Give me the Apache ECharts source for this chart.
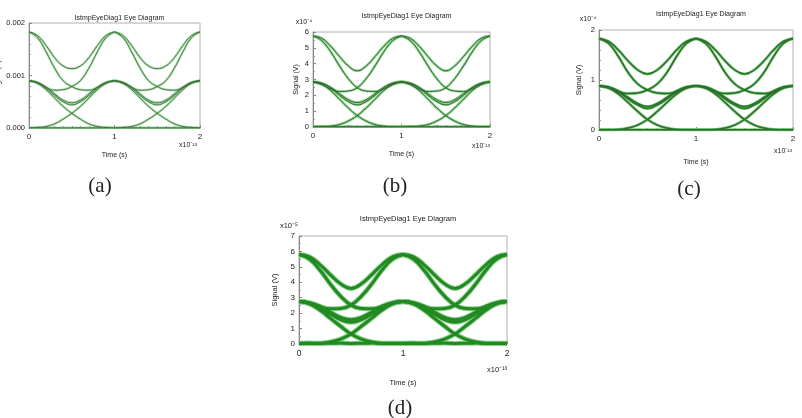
<!DOCTYPE html>
<html>
<head>
<meta charset="utf-8">
<script src="https://cdn.jsdelivr.net/npm/echarts@6/dist/echarts.min.js"></script>
<style>
  html, body { margin: 0; background: #fff; }
  #chart { width: 802px; height: 418px; }
</style>
</head>
<body>
<div id="chart"></div>
<script>
// time inside one symbol slot, in units of 1e-13 s
const slotTimes = [0, 0.1, 0.2, 0.3, 0.4, 0.5, 0.6, 0.7, 0.8, 0.9, 1.0];
const slotStarts = [0, 1];

// (a) signal in mV (axis shows V)
const aHighHigh = [1.83, 1.76, 1.57, 1.34, 1.18, 1.13, 1.18, 1.34, 1.57, 1.76, 1.83];
const aHighMid = [1.83, 1.72, 1.45, 1.14, 0.9, 0.79, 0.73, 0.72, 0.77, 0.86, 0.9];
const aMidMid = [0.9, 0.86, 0.76, 0.62, 0.5, 0.44, 0.5, 0.62, 0.76, 0.86, 0.9];
const aMidMid2 = [0.9, 0.87, 0.78, 0.65, 0.53, 0.48, 0.53, 0.65, 0.78, 0.87, 0.9];
const aMidLow = [0.9, 0.85, 0.73, 0.57, 0.41, 0.28, 0.17, 0.08, 0.03, 0.01, 0.0];
const aLowLow = [0.005, 0.004, 0.005, 0.006, 0.004, 0.005, 0.006, 0.004, 0.005, 0.005, 0.005];

// (b) signal in 1e-4 V
const bHighHigh = [5.75, 5.6, 5.1, 4.45, 3.85, 3.55, 3.85, 4.45, 5.1, 5.6, 5.75];
const bHighMid = [5.75, 5.45, 4.75, 3.85, 3.05, 2.48, 2.27, 2.24, 2.4, 2.68, 2.85];
const bMidMid = [2.85, 2.75, 2.45, 2.0, 1.6, 1.4, 1.6, 2.0, 2.45, 2.75, 2.85];
const bMidMid2 = [2.85, 2.77, 2.5, 2.1, 1.72, 1.55, 1.72, 2.1, 2.5, 2.77, 2.85];
const bMidLow = [2.85, 2.7, 2.3, 1.75, 1.2, 0.72, 0.38, 0.16, 0.06, 0.02, 0.02];
const bLowLow = [0.03, 0.04, 0.03, 0.02, 0.04, 0.03, 0.03, 0.04, 0.02, 0.03, 0.03];

// (c) signal in 1e-4 V
const cHighHigh = [1.83, 1.77, 1.6, 1.38, 1.2, 1.12, 1.2, 1.38, 1.6, 1.77, 1.83];
const cHighMid = [1.83, 1.73, 1.47, 1.15, 0.92, 0.8, 0.74, 0.73, 0.77, 0.85, 0.88];
const cMidMid = [0.88, 0.85, 0.76, 0.62, 0.5, 0.43, 0.5, 0.62, 0.76, 0.85, 0.88];
const cMidMid2 = [0.88, 0.86, 0.78, 0.65, 0.53, 0.47, 0.53, 0.65, 0.78, 0.86, 0.88];
const cMidLow = [0.88, 0.84, 0.72, 0.55, 0.37, 0.21, 0.1, 0.04, 0.01, 0.005, 0.005];
const cLowLow = [0.005, 0.006, 0.004, 0.005, 0.006, 0.005, 0.004, 0.006, 0.005, 0.005, 0.005];

// (d) signal in 1e-5 V
const dHighHigh = [5.8, 5.65, 5.15, 4.5, 3.9, 3.6, 3.9, 4.5, 5.15, 5.65, 5.8];
const dHighMid = [5.8, 5.5, 4.8, 3.9, 3.1, 2.52, 2.3, 2.28, 2.42, 2.65, 2.75];
const dMidMid = [2.75, 2.65, 2.37, 1.95, 1.58, 1.41, 1.58, 1.95, 2.37, 2.65, 2.75];
const dMidMid2 = [2.75, 2.68, 2.45, 2.07, 1.72, 1.57, 1.72, 2.07, 2.45, 2.68, 2.75];
const dMidLow = [2.75, 2.6, 2.2, 1.68, 1.15, 0.65, 0.32, 0.13, 0.05, 0.03, 0.03];
const dLowLow = [0.05, 0.06, 0.04, 0.05, 0.06, 0.04, 0.05, 0.06, 0.04, 0.05, 0.05];

const xTickLabels = ['0', '1', '2'];
const captions = ['(a)', '(b)', '(c)', '(d)'];
const exponents = ['', 'x10\u207B\u2074', 'x10\u207B\u2074', 'x10\u207B\u2075'];

const rev = arr => arr.slice().reverse();

const panels = [
  {
    curves: [aHighHigh, aHighMid, rev(aHighMid), aMidMid, aMidMid2, aMidLow, rev(aMidLow), aLowLow],
    grid: { left: 29, top: 23, width: 171, height: 105 },
    yMax: 2, yMinor: 5, yFmt: v => (v / 1000).toFixed(3), yGap: 27, xGap: 24,
    lineW: 0.9, haloW: 2.4, core: '#4a684a', halo: '#72d072', haloOp: 0.6,
    titleY: 15, font: 7, exp: null, xExp: [188, 145], cap: [100, 186]
  },
  {
    curves: [bHighHigh, bHighMid, rev(bHighMid), bMidMid, bMidMid2, bMidLow, rev(bMidLow), bLowLow],
    grid: { left: 313, top: 32, width: 177, height: 95 },
    yMax: 6, yMinor: 2, yFmt: v => String(v), yGap: 13, xGap: 24,
    lineW: 1, haloW: 2.6, core: '#3a633a', halo: '#5cc85c', haloOp: 0.7,
    titleY: 13, font: 7, exp: [304, 22], xExp: [481, 146], cap: [395, 186]
  },
  {
    curves: [cHighHigh, cHighMid, rev(cHighMid), cMidMid, cMidMid2, cMidLow, rev(cMidLow), cLowLow],
    grid: { left: 599, top: 30, width: 194, height: 100 },
    yMax: 2, yMinor: 5, yFmt: v => String(v), yGap: 16, xGap: 29,
    lineW: 1.5, haloW: 3, core: '#2c6f2c', halo: '#62c062', haloOp: 0.8,
    titleY: 11, font: 7, exp: [588, 19], xExp: [783, 151], cap: [689, 189]
  },
  {
    curves: [dHighHigh, dHighMid, rev(dHighMid), dMidMid, dMidMid2, dMidLow, rev(dMidLow), dLowLow],
    grid: { left: 299, top: 236, width: 208, height: 108 },
    yMax: 7, yMinor: 2, yFmt: v => String(v), yGap: 20, xGap: 35,
    lineW: 3, haloW: 5, core: '#238a23', halo: '#7dcc7d', haloOp: 0.85,
    titleY: 215, font: 7.5, exp: [289, 226], xExp: [497, 370], cap: [400, 408]
  }
];

const fontFamily = '"Liberation Sans", Arial, sans-serif';

const grids = [], xAxes = [], yAxes = [], titles = [], series = [], graphics = [];

panels.forEach((p, i) => {
  grids.push({
    ...p.grid, show: true, borderColor: '#b0b0b0', borderWidth: 1, backgroundColor: '#fff',
    containLabel: false, outerBoundsMode: 'none'
  });

  titles.push({
    text: 'IstmpEyeDiag1 Eye Diagram',
    left: p.grid.left + p.grid.width / 2,
    top: p.titleY - 5,
    textAlign: 'center',
    textStyle: { fontSize: p.font, fontWeight: 'normal', color: '#222', fontFamily }
  });

  xAxes.push({
    gridIndex: i, type: 'value', min: 0, max: 2, interval: 1,
    name: 'Time (s)', nameLocation: 'middle', nameGap: p.xGap,
    nameTextStyle: { fontSize: p.font, color: '#222', fontFamily },
    axisLine: { show: true, lineStyle: { color: '#888' } },
    axisTick: { show: true, inside: true, length: 3, lineStyle: { color: '#888' } },
    minorTick: { show: true, splitNumber: 10, length: 2, lineStyle: { color: '#999' } },
    splitLine: { show: false },
    axisLabel: { fontSize: p.font + 1, color: '#222', fontFamily, margin: 5,
      formatter: v => xTickLabels[Math.round(v)] }
  });

  yAxes.push({
    gridIndex: i, type: 'value', min: 0, max: p.yMax, interval: 1,
    name: 'Signal (V)', nameLocation: 'middle', nameGap: p.yGap, nameRotate: 90,
    nameTextStyle: { fontSize: p.font, color: '#222', fontFamily },
    axisLine: { show: true, lineStyle: { color: '#888' } },
    axisTick: { show: true, inside: true, length: 3, lineStyle: { color: '#888' } },
    minorTick: { show: true, splitNumber: p.yMinor, length: 2, lineStyle: { color: '#999' } },
    splitLine: { show: false },
    axisLabel: { fontSize: p.font + 0.5, color: '#222', fontFamily, margin: 4, formatter: p.yFmt }
  });

  // eye traces: every transition drawn in both symbol slots, halo first then core
  [['halo', p.haloW, p.halo, p.haloOp], ['core', p.lineW, p.core, 1]].forEach(([kind, w, col, op]) => {
    p.curves.forEach(curve => {
      slotStarts.forEach(s => {
        series.push({
          type: 'line', xAxisIndex: i, yAxisIndex: i,
          data: slotTimes.map((t, k) => [t + s, curve[k]]),
          smooth: 0.45, showSymbol: false, silent: true, clip: true,
          lineStyle: { width: w, color: col, opacity: op },
          z: kind === 'halo' ? 2 : 3
        });
      });
    });
  });

  if (p.exp) {
    graphics.push({ type: 'text', x: p.exp[0], y: p.exp[1],
      style: { text: exponents[i], fontSize: p.font, fill: '#222', fontFamily,
        textAlign: 'center', textVerticalAlign: 'middle' } });
  }
  graphics.push({ type: 'text', x: p.xExp[0], y: p.xExp[1],
    style: { text: 'x10\u207B\u00B9\u00B3', fontSize: p.font, fill: '#222', fontFamily,
      textAlign: 'center', textVerticalAlign: 'middle' } });
  graphics.push({ type: 'text', x: p.cap[0], y: p.cap[1],
    style: { text: captions[i], fontSize: 21, fill: '#222',
      fontFamily: '"Liberation Serif", "Times New Roman", serif',
      textAlign: 'center', textVerticalAlign: 'middle' } });
});

const chart = echarts.init(document.getElementById('chart'), null, { renderer: 'canvas' });
chart.setOption({
  animation: false,
  backgroundColor: '#fff',
  title: titles,
  grid: grids,
  xAxis: xAxes,
  yAxis: yAxes,
  series: series,
  graphic: graphics
});
</script>
</body>
</html>
